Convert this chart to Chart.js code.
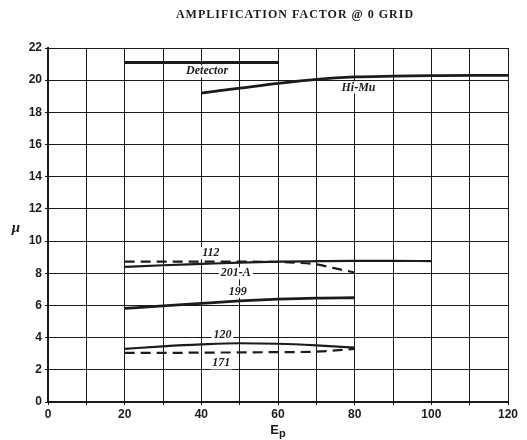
<!DOCTYPE html>
<html>
<head>
<meta charset="utf-8">
<script src="https://cdn.jsdelivr.net/npm/chart.js@4/dist/chart.umd.min.js"></script>
<style>
  html, body { margin: 0; padding: 0; background: #fff; }
  #wrap { width: 527px; height: 440px; position: relative; }
</style>
</head>
<body>
<div id="wrap"><canvas id="chart"></canvas></div>
<script>
// values (Ep in volts, mu)
const detectorEp = [20, 60];
const detectorMu = [21.1, 21.1];
const hiMuEp = [40, 50, 60, 70, 80, 90, 100, 110, 120];
const hiMuMu = [19.2, 19.5, 19.8, 20.05, 20.2, 20.25, 20.28, 20.3, 20.3];
const t112Ep = [20, 30, 40, 50, 60, 70, 80, 90, 100];
const t112Mu = [8.4, 8.5, 8.58, 8.66, 8.72, 8.75, 8.77, 8.77, 8.76];
const t201aEp = [20, 30, 40, 50, 60, 65, 70, 75, 80];
const t201aMu = [8.72, 8.72, 8.72, 8.72, 8.7, 8.65, 8.55, 8.3, 8.05];
const t199Ep = [20, 30, 40, 50, 60, 70, 80];
const t199Mu = [5.82, 5.97, 6.13, 6.28, 6.39, 6.46, 6.48];
const t120Ep = [20, 30, 40, 50, 60, 70, 80];
const t120Mu = [3.3, 3.46, 3.58, 3.65, 3.62, 3.52, 3.38];
const t171Ep = [20, 30, 40, 50, 60, 70, 80];
const t171Mu = [3.05, 3.05, 3.07, 3.08, 3.1, 3.13, 3.3];

const yTicks = [0, 2, 4, 6, 8, 10, 12, 14, 16, 18, 20, 22];
const xTickLabels = [0, 20, 40, 60, 80, 100, 120];

// curve names and where they are written on the plate (data units)
const curveNames = ["Detector", "Hi-Mu", "112", "201-A", "199", "120", "171"];
const nameEp = [41.5, 81, 42.5, 49, 49.5, 45.5, 45.2];
const nameMu = [20.55, 19.55, 9.25, 8.0, 6.85, 4.2, 2.4];

const ink = "#1b1b1b";

function pts(xs, ys) {
  return xs.map((x, i) => ({ x: x, y: ys[i] }));
}

function curve(xs, ys, width, dash) {
  return {
    data: pts(xs, ys),
    borderColor: ink,
    borderWidth: width,
    borderDash: dash || [],
    pointRadius: 0,
    fill: false,
    cubicInterpolationMode: "monotone"
  };
}

const textPlugin = {
  id: "plateText",
  afterDatasetsDraw(chart) {
    const ctx = chart.ctx;
    const xs = chart.scales.x, ys = chart.scales.y;
    ctx.save();
    ctx.textAlign = "center";
    ctx.textBaseline = "middle";
    ctx.font = "italic bold 12px 'Liberation Serif'";
    curveNames.forEach((name, i) => {
      const px = xs.getPixelForValue(nameEp[i]);
      const py = ys.getPixelForValue(nameMu[i]);
      const w = ctx.measureText(name).width;
      ctx.fillStyle = "#fff";
      ctx.fillRect(px - w / 2 - 2, py - 6, w + 4, 12);
      ctx.fillStyle = ink;
      ctx.fillText(name, px, py);
    });
    ctx.restore();
  },
  afterDraw(chart) {
    const ctx = chart.ctx;
    const area = chart.chartArea;
    ctx.save();
    ctx.fillStyle = ink;
    ctx.textBaseline = "middle";
    ctx.textAlign = "center";
    ctx.font = "bold 12px 'Liberation Serif'";
    ctx.letterSpacing = "1px";
    ctx.fillText("AMPLIFICATION FACTOR @ 0 GRID", 295, 15);
    ctx.letterSpacing = "0px";
    ctx.font = "italic bold 15px 'Liberation Serif'";
    ctx.fillText("\u03bc", 16, 228);
    ctx.font = "bold 13px 'Liberation Sans'";
    const cx = (area.left + area.right) / 2;
    ctx.textAlign = "right";
    ctx.fillText("E", cx + 1, 430);
    ctx.textAlign = "left";
    ctx.font = "bold 11px 'Liberation Sans'";
    ctx.fillText("p", cx + 1, 434);
    ctx.restore();
  }
};

new Chart(document.getElementById("chart"), {
  type: "line",
  data: {
    datasets: [
      curve(detectorEp, detectorMu, 2.8),
      curve(hiMuEp, hiMuMu, 2.8),
      curve(t112Ep, t112Mu, 2.2),
      curve(t201aEp, t201aMu, 2.2, [10, 6]),
      curve(t199Ep, t199Mu, 2.8),
      curve(t120Ep, t120Mu, 2.2),
      curve(t171Ep, t171Mu, 2.2, [10, 6])
    ]
  },
  options: {
    responsive: true,
    maintainAspectRatio: false,
    animation: false,
    layout: { padding: { top: 48, right: 19, left: 0, bottom: 0 } },
    plugins: {
      legend: { display: false },
      tooltip: { enabled: false },
      title: { display: false }
    },
    scales: {
      x: {
        type: "linear",
        min: 0,
        max: 120,
        afterFit: s => { s.height = 38; },
        ticks: {
          stepSize: 10,
          autoSkip: false,
          maxRotation: 0,
          color: ink,
          padding: 2,
          font: { family: "'Liberation Sans'", size: 12, weight: "bold" },
          callback: v => xTickLabels.includes(v) ? String(v) : ""
        },
        grid: { color: ink, lineWidth: 1, tickLength: 3 },
        border: { color: ink, width: 2 }
      },
      y: {
        type: "linear",
        min: 0,
        max: 22,
        afterFit: s => { s.width = 48; },
        afterBuildTicks: s => { s.ticks = yTicks.map(v => ({ value: v })); },
        ticks: {
          color: ink,
          padding: 3,
          font: { family: "'Liberation Sans'", size: 12, weight: "bold" }
        },
        grid: { color: ink, lineWidth: 1, tickLength: 3 },
        border: { color: ink, width: 2 }
      }
    }
  },
  plugins: [textPlugin]
});
</script>
</body>
</html>
